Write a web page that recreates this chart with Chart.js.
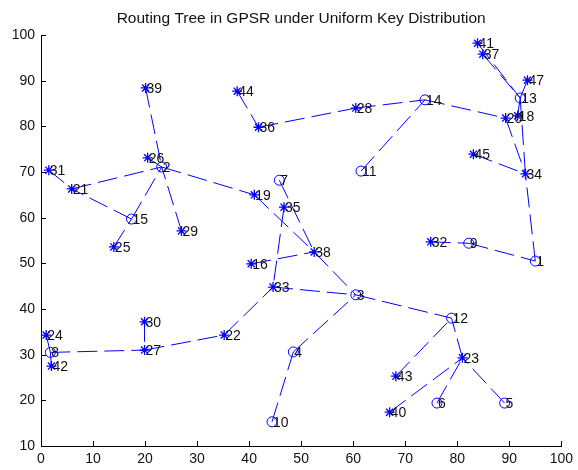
<!DOCTYPE html>
<html>
<head>
<meta charset="utf-8">
<script src="https://cdn.jsdelivr.net/npm/chart.js@4/dist/chart.umd.min.js"></script>
<style>
  html, body { margin: 0; padding: 0; background: #ffffff; }
  #wrap { width: 578px; height: 470px; }
</style>
</head>
<body>
<div id="wrap"><canvas id="c" width="578" height="470"></canvas></div>
<script>
// Sensor node positions (field coordinates 0..100)
const nodeIds = [1, 2, 3, 4, 5, 6, 7, 8, 9, 10, 11, 12, 13, 14, 15, 16, 18, 19, 20, 21, 22, 23, 24, 25,
                 26, 27, 28, 29, 30, 31, 32, 33, 34, 35, 36, 37, 38, 39, 40, 41, 42, 43, 44, 45, 47];
const nodeX = [95.0, 23.2, 60.5, 48.5, 89.1, 76.1, 45.8, 1.8, 82.2, 44.4, 61.5, 78.9, 92.1, 73.8, 17.4, 40.4,
               91.6, 41.0, 89.3, 5.9, 35.2, 81.0, 1.0, 14.0, 20.5, 19.9, 60.5, 27.0, 19.9, 1.5, 74.9, 44.6,
               93.1, 46.7, 41.8, 84.9, 52.5, 20.1, 67.0, 83.9, 2.0, 68.2, 37.7, 83.1, 93.5];
const nodeY = [50.5, 71.1, 43.1, 30.6, 19.4, 19.4, 68.2, 30.5, 54.4, 15.3, 70.2, 38.0, 86.2, 85.8, 59.7, 49.9,
               82.3, 65.0, 81.8, 66.3, 34.3, 29.3, 34.3, 53.6, 73.1, 31.0, 84.0, 57.1, 37.2, 70.4, 54.7, 44.8,
               69.6, 62.3, 79.8, 95.8, 52.5, 88.4, 17.4, 98.2, 27.5, 25.3, 87.7, 73.9, 90.1];
// 'o' = key-storing node, '*' = forwarding node
const nodeKind = ['o', 'o', 'o', 'o', 'o', 'o', 'o', 'o', 'o', 'o', 'o', 'o', 'o', 'o', 'o', '*',
                  '*', '*', '*', '*', '*', '*', '*', '*', '*', '*', '*', '*', '*', '*', '*', '*',
                  '*', '*', '*', '*', '*', '*', '*', '*', '*', '*', '*', '*', '*'];

// Routing tree links (child -> parent)
const edgeFrom = [41, 37, 47, 18, 13, 20, 14, 28, 36, 44, 11, 45, 1, 9, 32, 3, 43, 23, 40, 6, 5,
                  38, 33, 4, 10, 22, 27, 8, 30, 24, 42, 35, 16, 7, 19, 2, 26, 39, 21, 15, 29, 31, 15, 25];
const edgeTo   = [13, 13, 13, 13, 34, 34, 20, 14, 28, 36, 14, 34, 34, 1, 9, 12, 12, 12, 23, 23, 23,
                  3, 3, 3, 4, 33, 22, 27, 27, 8, 8, 33, 38, 38, 38, 19, 2, 2, 2, 2, 2, 21, 21, 15];

const BLUE = '#0000ff';
const FONT = '"Liberation Sans", Arial, sans-serif';

function nodePoint(id) {
  const i = nodeIds.indexOf(id);
  return { x: nodeX[i], y: nodeY[i] };
}

const datasets = [];
edgeFrom.forEach((a, k) => {
  datasets.push({
    data: [nodePoint(a), nodePoint(edgeTo[k])],
    showLine: true,
    borderColor: BLUE,
    borderWidth: 1,
    borderDash: [20, 7],
    pointRadius: 0,
    fill: false
  });
});

const circles = [], stars = [];
nodeIds.forEach((id, i) => {
  (nodeKind[i] === 'o' ? circles : stars).push({ x: nodeX[i], y: nodeY[i], id: id });
});
datasets.push({
  data: circles, showLine: false, pointStyle: 'circle', pointRadius: 5,
  pointBorderColor: BLUE, pointBackgroundColor: 'rgba(0,0,0,0)', pointBorderWidth: 1
});
datasets.push({
  data: stars, showLine: false, pointStyle: 'star', pointRadius: 5,
  pointBorderColor: BLUE, pointBackgroundColor: BLUE, pointBorderWidth: 1.3
});

// Node number labels, written just right of each marker
const nodeLabels = {
  id: 'nodeLabels',
  afterDatasetsDraw(chart) {
    const ctx = chart.ctx, xs = chart.scales.x, ys = chart.scales.y;
    ctx.save();
    ctx.font = '14px ' + FONT;
    ctx.fillStyle = '#111111';
    ctx.textAlign = 'left';
    ctx.textBaseline = 'middle';
    nodeIds.forEach((id, i) => {
      ctx.fillText(String(id), xs.getPixelForValue(nodeX[i]) + 1, ys.getPixelForValue(nodeY[i]) + 1);
    });
    ctx.restore();
  }
};

// Short tick marks pointing into the plot area
const innerTicks = {
  id: 'innerTicks',
  afterDraw(chart) {
    const ctx = chart.ctx, a = chart.chartArea, xs = chart.scales.x, ys = chart.scales.y;
    ctx.save();
    ctx.strokeStyle = '#000000';
    ctx.lineWidth = 1;
    ctx.beginPath();
    xs.ticks.forEach(t => {
      const px = Math.round(xs.getPixelForValue(t.value)) + 0.5;
      ctx.moveTo(px, a.bottom);
      ctx.lineTo(px, a.bottom - 5);
    });
    ys.ticks.forEach(t => {
      const py = Math.round(ys.getPixelForValue(t.value)) + 0.5;
      ctx.moveTo(a.left, py);
      ctx.lineTo(a.left + 5, py);
    });
    ctx.stroke();
    ctx.restore();
  }
};

new Chart(document.getElementById('c'), {
  type: 'scatter',
  data: { datasets: datasets },
  options: {
    responsive: false,
    animation: false,
    events: [],
    layout: { padding: { left: 0, right: 15, top: 0, bottom: 0 } },
    plugins: {
      legend: { display: false },
      tooltip: { enabled: false },
      title: {
        display: true,
        fullSize: false,
        text: 'Routing Tree in GPSR under Uniform Key Distribution',
        color: '#111111',
        font: { family: FONT, size: 15.5, weight: 'normal' },
        padding: { top: 9, bottom: 7.4 }
      }
    },
    scales: {
      x: {
        type: 'linear', min: 0, max: 100,
        ticks: { stepSize: 10, padding: 5, color: '#111111', font: { family: FONT, size: 14 } },
        grid: { drawOnChartArea: false, drawTicks: false },
        border: { display: true, color: '#000000', width: 1 },
        afterFit(s) { s.height = 24; }
      },
      y: {
        type: 'linear', min: 10, max: 100,
        ticks: { stepSize: 10, padding: 6, color: '#111111', font: { family: FONT, size: 14 } },
        grid: { drawOnChartArea: false, drawTicks: false },
        border: { display: true, color: '#000000', width: 1 },
        afterFit(s) { s.width = 41; }
      }
    }
  },
  plugins: [nodeLabels, innerTicks]
});
</script>
</body>
</html>
